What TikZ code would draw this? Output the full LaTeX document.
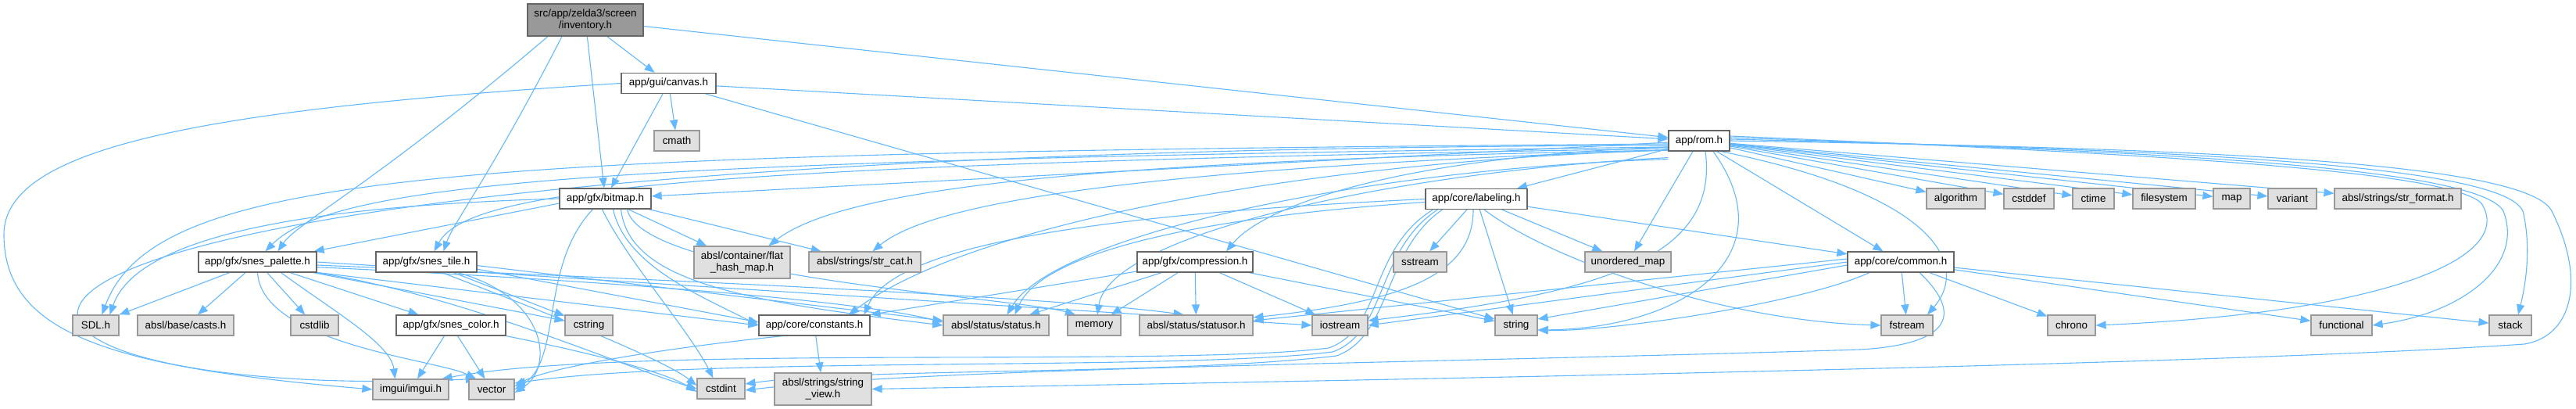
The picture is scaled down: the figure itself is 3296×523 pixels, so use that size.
\documentclass[tikz,border=0pt]{standalone}
\usepackage{fontspec}
\setmainfont{Liberation Sans}
\usetikzlibrary{positioning,arrows.meta,calc,backgrounds}
\definecolor{edgeblue}{HTML}{63B8FF}
\definecolor{sysfill}{HTML}{E0E0E0}
\definecolor{sysline}{HTML}{999999}
\definecolor{hdrline}{HTML}{666666}
\definecolor{rootfill}{HTML}{999999}

\tikzset{
    file/.style={draw=hdrline, fill=white, line width=0.6pt, inner sep=0pt,
        minimum height=13pt, font=\fontsize{6.7}{7.2}\selectfont, align=center},
    sysfile/.style={file, draw=sysline, fill=sysfill},
    rootfile/.style={file, fill=rootfill},
    dep/.style={draw=edgeblue, line width=0.55pt, -{Triangle[length=6.5pt,width=5pt]}}
}

\begin{document}
\begin{tikzpicture}[x=0.5pt, y=-0.5pt]
    \useasboundingbox (0,0) rectangle (3296,523);

    % headers of the project
    \node[rootfile, minimum width=74pt, minimum height=20.5pt] (inv) at (749,25.5) {src/app/zelda3/screen\\/inventory.h};
    \node[file, minimum width=60.5pt] (canvas) at (855.5,106.5) {app/gui/canvas.h};
    \node[file, minimum width=58.5pt] (bitmap) at (774.5,254) {app/gfx/bitmap.h};
    \node[file, minimum width=39pt] (rom) at (2174,180) {app/rom.h};
    \node[file, minimum width=65pt] (labeling) at (1889,254.5) {app/core/labeling.h};
    \node[file, minimum width=75.5pt] (palette) at (329.5,335) {app/gfx/snes\_palette.h};
    \node[file, minimum width=64.5pt] (tile) at (545.5,335) {app/gfx/snes\_tile.h};
    \node[file, minimum width=74pt] (compression) at (1529,335) {app/gfx/compression.h};
    \node[file, minimum width=68pt] (common) at (2432,335) {app/core/common.h};
    \node[file, minimum width=70pt] (sncolor) at (577,416) {app/gfx/snes\_color.h};
    \node[file, minimum width=71pt] (constants) at (1042,416) {app/core/constants.h};

    % system and library headers
    \node[sysfile, minimum width=29pt] (cmath) at (866,180) {cmath};
    \node[sysfile, minimum width=61.5pt, minimum height=20.5pt] (flat) at (949.5,335.5) {absl/container/flat\\\_hash\_map.h};
    \node[sysfile, minimum width=71.5pt] (strcat) at (1106.5,335) {absl/strings/str\_cat.h};
    \node[sysfile, minimum width=34pt] (sstream) at (1817,335) {sstream};
    \node[sysfile, minimum width=55pt] (umap) at (2083,335) {unordered\_map};
    \node[sysfile, minimum width=37.5pt] (algorithm) at (2502.5,254) {algorithm};
    \node[sysfile, minimum width=32pt] (cstddef) at (2596,254) {cstddef};
    \node[sysfile, minimum width=26.5pt] (ctime) at (2678.5,254) {ctime};
    \node[sysfile, minimum width=40pt] (filesystem) at (2769,254) {filesystem};
    \node[sysfile, minimum width=23.5pt] (map) at (2855.5,254) {map};
    \node[sysfile, minimum width=31pt] (variant) at (2933,254) {variant};
    \node[sysfile, minimum width=81pt] (strformat) at (3068,254) {absl/strings/str\_format.h};
    \node[sysfile, minimum width=29.5pt] (SDL) at (122.5,416) {SDL.h};
    \node[sysfile, minimum width=61.5pt] (casts) at (237.5,416) {absl/base/casts.h};
    \node[sysfile, minimum width=30.5pt] (cstdlib) at (402.5,416) {cstdlib};
    \node[sysfile, minimum width=30.5pt] (cstring) at (753.5,416) {cstring};
    \node[sysfile, minimum width=67.5pt] (status) at (1274.5,416) {absl/status/status.h};
    \node[sysfile, minimum width=34pt] (memory) at (1400,416) {memory};
    \node[sysfile, minimum width=72.5pt] (statusor) at (1530.5,416) {absl/status/statusor.h};
    \node[sysfile, minimum width=35.5pt] (iostream) at (1714.5,416) {iostream};
    \node[sysfile, minimum width=27pt] (string) at (1940,416) {string};
    \node[sysfile, minimum width=33pt] (fstream) at (2440,416) {fstream};
    \node[sysfile, minimum width=30.5pt] (chrono) at (2650.5,416) {chrono};
    \node[sysfile, minimum width=39pt] (functional) at (2996,416) {functional};
    \node[sysfile, minimum width=27pt] (stack) at (3212,416) {stack};
    \node[sysfile, minimum width=48.5pt] (imgui) at (525.5,498) {imgui/imgui.h};
    \node[sysfile, minimum width=29pt] (vector) at (629,498) {vector};
    \node[sysfile, minimum width=30.5pt] (cstdint) at (922.5,497) {cstdint};
    \node[sysfile, minimum width=62pt, minimum height=20.5pt] (strview) at (1053,497.5) {absl/strings/string\\\_view.h};

    \begin{scope}[on background layer]
    % inventory.h
    \draw[dep] (inv) -- (canvas);
    \draw[dep] (inv) -- (bitmap);
    \draw[dep] (inv) -- (rom);
    \draw[dep] ([xshift=-24pt]inv.south) .. controls (480,235) and (380,285) .. ([xshift=13pt]palette.north);
    \draw[dep] ([xshift=-15pt]inv.south) .. controls (630,220) and (580,285) .. ([xshift=11pt]tile.north);

    % canvas.h
    \draw[dep] (canvas) -- (cmath);
    \draw[dep] (canvas) -- (bitmap);
    \draw[dep] (canvas) -- (rom);
    \draw[dep] (canvas) -- (string);
    \draw[dep] (canvas.west) .. controls (250,140) and (5,190) .. (5,300) .. controls (5,430) and (150,470) .. (imgui.west);

    % rom.h
    \draw[dep] (rom) -- (bitmap);
    \draw[dep] ([yshift=-2pt]rom.west) .. controls (600,196) and (200,215) .. ([xshift=4pt]SDL.north);
    \draw[dep] ([yshift=-3pt]rom.west) .. controls (-350,190) and (-150,520) .. ([xshift=-10pt]vector.north);
    \draw[dep] ([yshift=-4pt]rom.west) .. controls (800,205) and (430,230) .. ([xshift=5pt]palette.north);
    \draw[dep] ([yshift=-5pt]rom.west) .. controls (900,210) and (600,240) .. ([xshift=5pt]tile.north);
    \draw[dep] ([yshift=-6pt]rom.west) .. controls (1400,205) and (1080,240) .. ([xshift=17pt]flat.north);
    \draw[dep] ([yshift=-6pt]rom.west) .. controls (1450,215) and (1190,260) .. ([xshift=5pt]strcat.north);
    \draw[dep] ([yshift=-6pt]rom.west) .. controls (1700,205) and (1250,280) .. ([xshift=22pt]constants.north);
    \draw[dep] ([yshift=-5pt]rom.south west) .. controls (1750,215) and (1350,300) .. ([xshift=7pt]status.north);
    \draw[dep] ([yshift=-4pt]rom.south west) .. controls (1780,220) and (1420,300) .. ([xshift=2pt]memory.north);
    \draw[dep] ([yshift=-4pt]rom.west) .. controls (1800,200) and (1620,260) .. ([xshift=20pt]compression.north);
    \draw[dep] (rom) -- (labeling);
    \draw[dep] (rom) -- (umap);
    \draw[dep] (rom) -- (common);
    \draw[dep] (rom) -- (algorithm);
    \draw[dep] (rom) -- (cstddef);
    \draw[dep] (rom) -- (ctime);
    \draw[dep] (rom) -- (filesystem);
    \draw[dep] (rom) -- (map);
    \draw[dep] (rom) -- (variant);
    \draw[dep] (rom) -- (strformat);
    \draw[dep] ([xshift=4pt]rom.south) .. controls (2200,330) and (2050,375) .. ([yshift=3pt]iostream.east);
    \draw[dep] ([xshift=9pt]rom.south) .. controls (2290,330) and (2150,420) .. ([yshift=-3pt]string.east);
    \draw[dep] ([xshift=14pt]rom.south) .. controls (2480,250) and (2520,340) .. ([xshift=13pt]fstream.north);
    \draw[dep] ([yshift=3pt]rom.east) .. controls (2700,195) and (3130,215) .. (3175,260)
        .. controls (3220,330) and (3050,400) .. (chrono.east);
    \draw[dep] ([yshift=2pt]rom.east) .. controls (2700,192) and (3170,210) .. (3203,270)
        .. controls (3230,340) and (3150,400) .. (functional.east);
    \draw[dep] ([yshift=1pt]rom.east) .. controls (2700,190) and (3200,205) .. (3228,270)
        .. controls (3240,320) and (3230,370) .. ([xshift=5pt]stack.north);
    \draw[dep] (rom.east) .. controls (2700,188) and (3230,200) .. (3265,270)
        .. controls (3310,360) and (3290,430) .. (3230,440)
        .. controls (2800,470) and (1400,492) .. (strview.east);

    % bitmap.h
    \draw[dep] (bitmap.west) .. controls (450,262) and (180,290) .. ([xshift=9pt]SDL.north);
    \draw[dep] ([yshift=-3pt]bitmap.west) -- ([xshift=-2pt]palette.north east);
    \draw[dep] (bitmap) -- (flat);
    \draw[dep] (bitmap) -- (strcat);
    \draw[dep] ([xshift=-8pt]bitmap.south) .. controls (690,340) and (720,460) .. (vector.east);
    \draw[dep] ([xshift=-2pt]bitmap.south) .. controls (800,330) and (880,420) .. ([xshift=-5pt]cstdint.north);
    \draw[dep] ([xshift=5pt]bitmap.south) .. controls (800,340) and (900,380) .. (constants.west);
    \draw[dep] ([xshift=10pt]bitmap.south) .. controls (805,360) and (950,385) .. (status.west);
    \draw[dep] ([xshift=14pt]bitmap.south) .. controls (820,355) and (1300,380) .. ([xshift=-12pt]memory.north);

    % snes_palette.h
    \draw[dep] (palette) -- (SDL.north east);
    \draw[dep] (palette) -- (casts);
    \draw[dep] (palette) -- (cstdlib);
    \draw[dep] (palette) -- (sncolor);
    \draw[dep] (palette) -- (cstring);
    \draw[dep] ([xshift=15pt]palette.south) .. controls (430,400) and (500,440) .. ([xshift=-10pt]imgui.north);
    \draw[dep] (palette.south) .. controls (335,440) and (560,460) .. ([xshift=-10pt]vector.north);
    \draw[dep] (palette.-10) -- (constants.west);
    \draw[dep] (palette.-5) .. controls (800,360) and (1100,385) .. ([yshift=2pt]status.west);
    \draw[dep] (palette.-3) .. controls (900,360) and (1350,380) .. ([xshift=-8pt]statusor.north);
    \draw[dep] (palette.east) -- (iostream.west);
    \draw[dep] (palette.south east) .. controls (600,380) and (800,470) .. (cstdint.west);

    % snes_tile.h
    \draw[dep] (tile) -- (cstring);
    \draw[dep] (tile.-8) -- ([yshift=2pt]constants.west);
    \draw[dep] (tile.-4) -- ([yshift=3pt]status.west);
    \draw[dep] ([xshift=10pt]tile.south) .. controls (700,400) and (850,460) .. ([yshift=2pt]cstdint.west);
    \draw[dep] ([xshift=20pt]tile.south) .. controls (700,380) and (710,470) .. ([yshift=-2pt]vector.east);

    % snes_color.h
    \draw[dep] (sncolor) -- (imgui);
    \draw[dep] (sncolor) -- (vector);
    \draw[dep] (sncolor.south east) .. controls (750,450) and (850,475) .. ([yshift=-2pt]cstdint.west);

    % constants.h
    \draw[dep] (constants) -- (strview);
    \draw[dep] ([xshift=-20pt]constants.south) .. controls (850,445) and (700,470) .. ([yshift=2pt]vector.east);

    % compression.h
    \draw[dep] (compression) -- (constants.north east);
    \draw[dep] (compression) -- (status);
    \draw[dep] (compression) -- (memory);
    \draw[dep] (compression) -- (statusor);
    \draw[dep] (compression) -- (iostream);
    \draw[dep] (compression) -- (string);

    % labeling.h
    \draw[dep] (labeling) -- (sstream);
    \draw[dep] (labeling) -- (umap);
    \draw[dep] (labeling) -- (string);
    \draw[dep] (labeling) -- (common);
    \draw[dep] ([xshift=5pt]labeling.south) .. controls (1980,330) and (2200,410) .. (fstream.west);
    \draw[dep] (labeling.west) .. controls (1500,270) and (1150,300) .. ([xshift=-4pt]constants.north east);
    \draw[dep] ([yshift=-2pt]labeling.west) .. controls (1500,280) and (1330,330) .. ([xshift=12pt]status.north);
    \draw[dep] ([xshift=-2pt]labeling.south) .. controls (1885,350) and (1800,385) .. ([yshift=5pt]statusor.east);
    \draw[dep] ([xshift=5pt]labeling.south west) .. controls (1750,320) and (1770,420) .. (1700,445)
        .. controls (1500,470) and (800,440) .. ([xshift=20pt]imgui.north);
    \draw[dep] ([xshift=8pt]labeling.south west) .. controls (1760,320) and (1775,425) .. (1705,450)
        .. controls (1500,475) and (900,455) .. ([yshift=4pt]vector.east);
    \draw[dep] ([xshift=11pt]labeling.south west) .. controls (1770,320) and (1780,430) .. (1710,455)
        .. controls (1500,480) and (1100,470) .. ([yshift=3pt]cstdint.east);

    % common.h
    \draw[dep] (common) -- (fstream);
    \draw[dep] (common) -- (chrono);
    \draw[dep] (common) -- (functional);
    \draw[dep] (common) -- (stack);
    \draw[dep] ([yshift=2pt]common.west) -- ([yshift=3pt]statusor.east);
    \draw[dep] (common.west) -- (iostream.east);
    \draw[dep] ([yshift=-2pt]common.west) -- ([yshift=4pt]string.east);
    \draw[dep] ([xshift=-20pt]common.south) .. controls (2300,390) and (2050,425) .. ([yshift=-3pt]string.east);
    \draw[dep] ([xshift=12pt]common.south) .. controls (2510,400) and (2500,440) .. (2380,447)
        .. controls (1800,465) and (1200,470) .. ([yshift=-1pt]cstdint.east);
    \end{scope}
\end{tikzpicture}
\end{document}
